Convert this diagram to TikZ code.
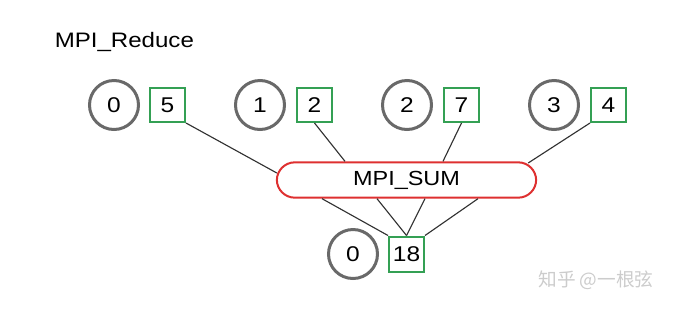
\documentclass[tikz,border=0pt]{standalone}
\usepackage{fontspec}
\setmainfont[FakeStretch=1.15]{Liberation Sans}
\newfontfamily\cjk{Noto Sans CJK SC}
\usetikzlibrary{calc}
\definecolor{ringgray}{RGB}{105,105,105}
\definecolor{boxgreen}{RGB}{52,160,84}
\definecolor{sumred}{RGB}{222,48,48}
\definecolor{linegray}{RGB}{50,50,50}
\tikzset{
  rank/.style={circle, draw=ringgray, line width=2.25pt, minimum size=36.75pt, inner sep=0pt, font=\fontsize{16}{18}\selectfont},
  valbox/.style={rectangle, draw=boxgreen, line width=1.5pt, minimum width=26.25pt, minimum height=25.5pt, inner sep=0pt, font=\fontsize{16}{18}\selectfont},
  opbox/.style={rectangle, draw=sumred, line width=1.5pt, rounded corners=13.5pt, minimum width=194.5pt, minimum height=26.5pt, inner sep=0pt, font=\fontsize{15.3}{18}\selectfont},
  link/.style={draw=linegray, line width=0.85pt},
}
\begin{document}
\begin{tikzpicture}[x=0.75pt,y=-0.75pt]
\useasboundingbox (0,0) rectangle (677,308);
\node[anchor=west, inner sep=0pt, font=\fontsize{15.7}{18}\selectfont] (title) at (54.5,42) {MPI\_Reduce};
\node[rank] (c0) at (114,105) {0};
\node[rank] (c1) at (260,105) {1};
\node[rank] (c2) at (407,105) {2};
\node[rank] (c3) at (554,105) {3};
\node[valbox] (s0) at (167.5,105) {5};
\node[valbox] (s1) at (314.5,105) {2};
\node[valbox] (s2) at (461.5,105) {7};
\node[valbox] (s3) at (608.5,105) {4};
\node[opbox] (sum) at (406.5,180) {MPI\_SUM};
\node[rank] (cb) at (353,254) {0};
\node[valbox, minimum height=26.25pt] (sb) at (406.5,254) {18};
\draw[link] (s0.south east) -- ($(sum.west)+(1,-7)$);
\draw[link] (s1.south) -- ($(sum.north)+(-61.5,0)$);
\draw[link] (s2.south) -- ($(sum.north)+(36.5,0)$);
\draw[link] (s3.south west) -- ($(sum.east)+(-9,-17)$);
\draw[link] ($(sum.south)+(-84.5,0)$) -- (sb.north west);
\draw[link] ($(sum.south)+(-29.5,0)$) -- (sb.north);
\draw[link] ($(sum.south)+(18.5,0)$) -- (sb.north);
\draw[link] ($(sum.south)+(71.5,0)$) -- (sb.north east);
\node[text=gray!40, font=\cjk\fontsize{14}{16}\selectfont, inner sep=0pt] (wm) at (596,280) {知乎 @一根弦};
\end{tikzpicture}
\end{document}
